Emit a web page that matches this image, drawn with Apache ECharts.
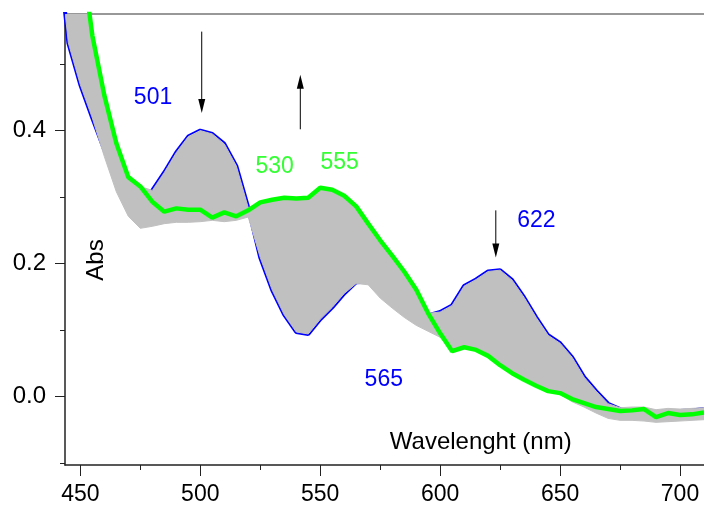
<!DOCTYPE html>
<html><head><meta charset="utf-8">
<script src="https://cdn.jsdelivr.net/npm/echarts@6/dist/echarts.min.js"></script>
<style>html,body{margin:0;padding:0;background:#fff}#c{width:704px;height:506px}</style>
</head><body><div id="c"></div>
<script>
// ---- data ----
const wavelength = [443,445,450,455,460,465,470,475,480,485,490,495,500,505,510,515,520,525,530,535,540,545,550,555,560,565,570,575,580,585,590,595,600,605,610,615,620,625,630,635,640,645,650,655,660,665,670,675,680,685,690,695,700,705,710];
const blueAbs = [0.60,0.532,0.469,0.419,0.371,0.334,0.314,0.292,0.310,0.337,0.367,0.391,0.400,0.395,0.380,0.347,0.284,0.209,0.160,0.123,0.097,0.094,0.116,0.134,0.155,0.172,0.173,0.161,0.151,0.140,0.130,0.122,0.127,0.137,0.166,0.176,0.188,0.190,0.175,0.149,0.119,0.092,0.080,0.059,0.029,0.008,-0.011,-0.019,-0.022,-0.024,-0.024,-0.022,-0.022,-0.021,-0.019];
const greenAbs = [0.85,0.80,0.68,0.543,0.453,0.381,0.330,0.316,0.293,0.278,0.283,0.281,0.281,0.269,0.277,0.271,0.280,0.292,0.296,0.299,0.298,0.299,0.314,0.311,0.302,0.286,0.260,0.235,0.212,0.188,0.161,0.125,0.095,0.068,0.074,0.070,0.061,0.047,0.035,0.025,0.016,0.008,0.005,-0.004,-0.010,-0.016,-0.019,-0.022,-0.021,-0.019,-0.031,-0.025,-0.028,-0.027,-0.024];
const grayTop = [0.85,0.80,0.68,0.543,0.453,0.381,0.330,0.316,0.310,0.337,0.367,0.391,0.400,0.395,0.380,0.347,0.284,0.292,0.296,0.298,0.298,0.301,0.311,0.311,0.302,0.286,0.260,0.235,0.212,0.188,0.161,0.125,0.127,0.137,0.166,0.176,0.188,0.190,0.175,0.149,0.119,0.092,0.080,0.059,0.029,0.008,-0.011,-0.017,-0.016,-0.016,-0.020,-0.018,-0.019,-0.018,-0.017];
const grayBottom = [0.60,0.532,0.469,0.419,0.361,0.308,0.271,0.253,0.256,0.260,0.262,0.262,0.263,0.265,0.263,0.265,0.270,0.209,0.160,0.123,0.097,0.094,0.116,0.134,0.155,0.170,0.168,0.148,0.133,0.119,0.107,0.098,0.089,0.070,0.073,0.070,0.061,0.047,0.035,0.025,0.016,0.008,0.003,-0.008,-0.016,-0.025,-0.033,-0.036,-0.036,-0.037,-0.039,-0.038,-0.037,-0.036,-0.035];
const xTicks = [450,500,550,600,650,700];
const xMinorTicks = [475,525,575,625,675];
const yTicks = [0,0.2,0.4];
const yMinorTicks = [-0.1,0.1,0.3,0.5];
const peakLabels = [['501',480.3,0.450,'blue'],['530',531.0,0.346,'green'],['555',558.1,0.352,'green'],['622',640.1,0.265,'blue'],['565',576.5,0.025,'blue']];
const arrows = [[500.6,0.549,0.4264],[541.7,0.402,0.484],[623.2,0.280,0.209]];
const xTitle = 'Wavelenght (nm)';
const yTitle = 'Abs';

// ---- chart ----
const FONT = '"Liberation Sans", Arial, sans-serif';
const BLUE = '#0000ff', GREEN = '#00ff00', GRAY = '#c0c0c0';
const chart = echarts.init(document.getElementById('c'), null, {renderer: 'canvas'});
const XMIN = 443.6, XMAX = 710, YMIN = -0.1032, YMAX = 0.5755;
const pairs = arr => wavelength.map((w, i) => [w, arr[i]]);

chart.setOption({
  animation: false,
  backgroundColor: '#fff',
  grid: {left: 65, right: 0, top: 14, bottom: 40, containLabel: false},
  xAxis: [
    {type: 'value', min: XMIN, max: XMAX, position: 'bottom',
     axisLine: {show: true, onZero: false, lineStyle: {color: '#222', width: 1.5}},
     axisTick: {show: true, customValues: xTicks, length: 11, lineStyle: {color: '#222', width: 1}},
     axisLabel: {show: true, customValues: xTicks, margin: 18, fontSize: 23, color: '#000', fontFamily: FONT},
     splitLine: {show: false}},
    {type: 'value', min: XMIN, max: XMAX, position: 'bottom',
     axisLine: {show: false, onZero: false},
     axisTick: {show: true, customValues: xMinorTicks, length: 5, lineStyle: {color: '#222', width: 1}},
     axisLabel: {show: false}, splitLine: {show: false}},
    {type: 'value', min: XMIN, max: XMAX, position: 'top',
     axisLine: {show: true, onZero: false, lineStyle: {color: '#777', width: 1.5}},
     axisTick: {show: false}, axisLabel: {show: false}, splitLine: {show: false}}
  ],
  yAxis: [
    {type: 'value', min: YMIN, max: YMAX, position: 'left',
     axisLine: {show: true, onZero: false, lineStyle: {color: '#222', width: 1.5}},
     axisTick: {show: true, customValues: yTicks, length: 10, lineStyle: {color: '#222', width: 1}},
     axisLabel: {show: true, customValues: yTicks, margin: 19, fontSize: 24, color: '#000', fontFamily: FONT,
                 formatter: v => Number(v).toFixed(1)},
     splitLine: {show: false}},
    {type: 'value', min: YMIN, max: YMAX, position: 'left',
     axisLine: {show: false, onZero: false},
     axisTick: {show: true, customValues: yMinorTicks, length: 5, lineStyle: {color: '#222', width: 1}},
     axisLabel: {show: false}, splitLine: {show: false}}
  ],
  series: [
    {name: 'initial', type: 'line', xAxisIndex: 0, yAxisIndex: 0, data: pairs(blueAbs),
     showSymbol: false, symbol: 'none', z: 2, clip: true,
     lineStyle: {color: BLUE, width: 4}},
    {name: 'intermediate', type: 'custom', xAxisIndex: 0, yAxisIndex: 0, z: 3, clip: true,
     data: [[560, 0.2]], encode: {x: 0, y: 1},
     renderItem: function (params, api) {
       const pts = [];
       for (let i = 0; i < wavelength.length; i++) pts.push(api.coord([wavelength[i], grayTop[i]]));
       for (let i = wavelength.length - 1; i >= 0; i--) pts.push(api.coord([wavelength[i], grayBottom[i]]));
       const cs = params.coordSys;
       return {type: 'group', clipPath: {type: 'rect', shape: {x: cs.x, y: cs.y, width: cs.width, height: cs.height}},
               children: [{type: 'polygon', shape: {points: pts}, style: {fill: GRAY, stroke: GRAY, lineWidth: 1}}]};
     }},
    {name: 'final', type: 'line', xAxisIndex: 0, yAxisIndex: 0, data: pairs(greenAbs),
     showSymbol: false, symbol: 'none', z: 4, clip: true,
     lineStyle: {color: GREEN, width: 4.5}}
  ]
});

function px(x, y) { return chart.convertToPixel({xAxisIndex: 0, yAxisIndex: 0}, [x, y]); }
const gfx = [];
peakLabels.forEach(([t, x, y, c]) => {
  const p = px(x, y);
  gfx.push({type: 'text', x: p[0], y: p[1], z: 10,
    style: {text: t, fill: c === 'blue' ? '#0000ff' : '#33ff33', fontSize: 23, fontFamily: FONT, align: 'center', verticalAlign: 'middle'}});
});
arrows.forEach(([x, y0, y1]) => {
  const a = px(x, y0), b = px(x, y1);
  const dir = b[1] > a[1] ? 1 : -1;
  const headLen = 14, half = 3.5;
  gfx.push({type: 'line', z: 10, shape: {x1: a[0], y1: a[1], x2: b[0], y2: b[1] - dir * headLen * 0.6}, style: {stroke: '#000', lineWidth: 1}});
  gfx.push({type: 'polygon', z: 10, shape: {points: [[b[0], b[1]], [b[0] - half, b[1] - dir * headLen], [b[0] + half, b[1] - dir * headLen]]}, style: {fill: '#000'}});
});
gfx.push({type: 'text', x: 480.7, y: 442, z: 10,
  style: {text: xTitle, fill: '#000', fontSize: 24, fontFamily: FONT, align: 'center', verticalAlign: 'middle'}});
gfx.push({type: 'text', x: 96.5, y: 260, rotation: Math.PI / 2, z: 10,
  style: {text: yTitle, fill: '#000', fontSize: 24, fontFamily: FONT, align: 'center', verticalAlign: 'middle'}});
chart.setOption({graphic: gfx});
</script>
</body></html>
